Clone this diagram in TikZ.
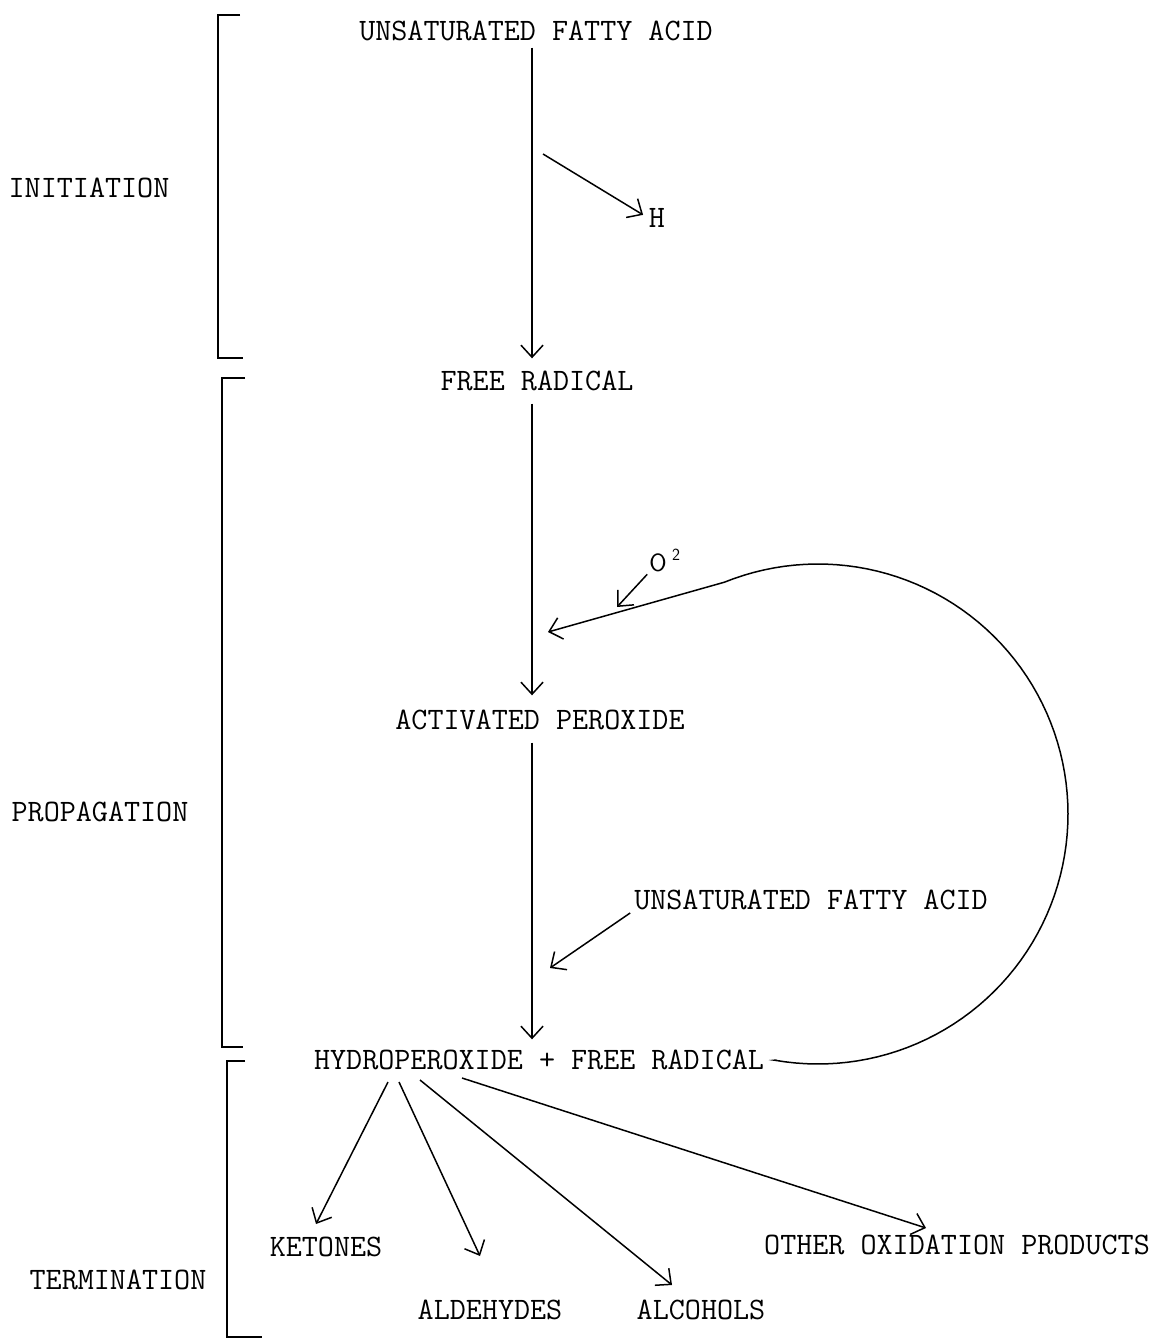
\documentclass[tikz,border=0pt]{standalone}
\usetikzlibrary{arrows.meta}
\begin{document}
\begin{tikzpicture}[x=1pt,y=-1pt,line width=1.5pt,
  lbl/.style={font=\fontsize{31.2}{36}\selectfont\ttfamily, inner sep=0pt},
  arr/.style={-{Straight Barb[length=12pt,width=22pt]}},
  brk/.style={line width=1.6pt}]
\useasboundingbox (0,0) rectangle (1153,1340);
\fill[white] (0,0) rectangle (1153,1340);
% stage labels
\node[lbl] (init) at (89,188) {INITIATION};
\node[lbl] (prop) at (100,812) {PROPAGATION};
\node[lbl] (term) at (118,1280) {TERMINATION};
% brackets
\draw[brk] (240,15) -- (218,15) -- (218,358) -- (243,358);
\draw[brk] (245,378) -- (222,378) -- (222,1047) -- (243,1047);
\draw[brk] (245,1061) -- (227,1061) -- (227,1337) -- (262,1337);
% main chain
\coordinate (sp) at (532,0);
\node[lbl] (ufa1) at (536,31) {UNSATURATED FATTY ACID};
\node[lbl] (fr) at (537,381) {FREE RADICAL};
\node[lbl] (ap) at (540,720) {ACTIVATED PEROXIDE};
\node[lbl] (hydro) at (539,1060) {HYDROPEROXIDE + FREE RADICAL};
\draw[arr, shorten <=6pt, shorten >=12pt] (ufa1.south -| sp) -- (fr.north -| sp);
\draw[arr, shorten <=12pt, shorten >=14pt] (fr.south -| sp) -- (ap.north -| sp);
\draw[arr, shorten <=12pt, shorten >=10pt] (ap.south -| sp) -- (hydro.north -| sp);
% H
\node[lbl] (H) at (657,218) {H};
\coordinate (hs) at (543,154);
\draw[arr, shorten >=6pt] (hs) -- (H.west);
% O2
\node[font=\fontsize{25}{30}\selectfont\sffamily, inner sep=0pt] (O) at (658,563) {O};
\node[font=\fontsize{17}{20}\selectfont\sffamily, inner sep=0pt] (two) at (676,555) {2};
\coordinate (ot) at (617,607);
\draw[arr, shorten <=2pt] (O.south west) -- (ot);
% recycling loop
\coordinate (lpA) at ([xshift=12pt]hydro.east);
\coordinate (lpT) at (548,632);
\draw[arr] (lpA) -- plot[domain=100:-112, samples=90, variable=\t]
   ({818+250*cos(\t)}, {814+250*sin(\t)}) -- (lpT);
% second fatty acid
\node[lbl] (ufa2) at (811,900) {UNSATURATED FATTY ACID};
\coordinate (ut) at (550,968);
\draw[arr, shorten <=4pt] (ufa2.south west) -- (ut);
% products
\node[lbl] (ket) at (326,1247) {KETONES};
\node[lbl] (ald) at (490,1310) {ALDEHYDES};
\node[lbl] (alc) at (701,1310) {ALCOHOLS};
\node[lbl] (oth) at (957,1245) {OTHER OXIDATION PRODUCTS};
\coordinate (h1) at (388,1082);
\coordinate (h2) at (399,1082);
\coordinate (h3) at (420,1080);
\coordinate (h4) at (462,1078);
\draw[arr] (h1) -- (316,1224) coordinate (k1);
\draw[arr] (h2) -- (480,1256) coordinate (k2);
\draw[arr] (h3) -- (672,1285) coordinate (k3);
\draw[arr] (h4) -- (926,1228) coordinate (k4);
\end{tikzpicture}
\end{document}
